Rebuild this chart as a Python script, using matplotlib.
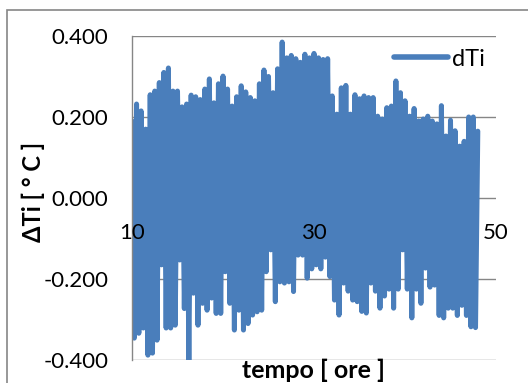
import numpy as np
import matplotlib
matplotlib.use('Agg')
import matplotlib.pyplot as plt
from matplotlib.patches import Rectangle
from matplotlib.ticker import FormatStrFormatter

# Peak values of the oscillating signal (every 0.5 h starting at 10.0 h)
picchi = [0.190, 0.232, 0.215, 0.170, 0.255, 0.264, 0.285, 0.310, 0.321, 0.264,
          0.264, 0.225, 0.232, 0.254, 0.250, 0.243, 0.269, 0.294, 0.235, 0.282,
          0.301, 0.269, 0.227, 0.250, 0.277, 0.262, 0.248, 0.240, 0.282, 0.316,
          0.300, 0.260, 0.319, 0.385, 0.346, 0.352, 0.344, 0.335, 0.355, 0.346,
          0.357, 0.346, 0.342, 0.344, 0.252, 0.207, 0.272, 0.278, 0.207, 0.255,
          0.245, 0.252, 0.248, 0.248, 0.202, 0.195, 0.223, 0.227, 0.289, 0.260,
          0.240, 0.202, 0.221, 0.190, 0.195, 0.202, 0.190, 0.183, 0.228, 0.153,
          0.192, 0.166, 0.128, 0.140, 0.200, 0.200, 0.165]
# Trough values of the oscillating signal (every 0.5 h starting at 10.25 h)
valli = [-0.346, -0.334, -0.321, -0.388, -0.383, -0.351, -0.165, -0.321, -0.321, -0.314,
         -0.153, -0.273, -0.400, -0.235, -0.314, -0.260, -0.277, -0.247, -0.285, -0.285,
         -0.182, -0.260, -0.326, -0.277, -0.326, -0.310, -0.289, -0.281, -0.277, -0.182,
         -0.128, -0.256, -0.207, -0.210, -0.207, -0.231, -0.141, -0.141, -0.198, -0.175,
         -0.165, -0.175, -0.146, -0.194, -0.252, -0.289, -0.210, -0.230, -0.252, -0.256,
         -0.280, -0.284, -0.210, -0.230, -0.272, -0.242, -0.225, -0.272, -0.225, -0.128,
         -0.225, -0.296, -0.225, -0.260, -0.173, -0.220, -0.215, -0.290, -0.296, -0.272,
         -0.272, -0.290, -0.265, -0.290, -0.318, -0.320]
t_inizio = 10.0
passo_ore = 0.25

serie_nome = "dTi"
x_ticks = [10, 30, 50]
y_ticks = [-0.4, -0.2, 0.0, 0.2, 0.4]
x_label = "tempo [ ore ]"
y_label = "ΔTi [ ° C ]"

dTi = []
for p, v in zip(picchi, valli):
    dTi += [p, v]
dTi.append(picchi[-1])
tempo = t_inizio + passo_ore * np.arange(len(dTi))

W, H = 528, 383
plt.rcParams['font.family'] = ['Lato', 'DejaVu Sans']
fig = plt.figure(figsize=(W / 100, H / 100), dpi=100)
ax = fig.add_axes([132 / W, 1 - 360 / H, (496 - 132) / W, (360 - 36) / H])

col = '#4a7ebb'
grey = '#868686'
ax.plot(tempo, dTi, color=col, lw=3.6, solid_joinstyle='round',
        solid_capstyle='round', label=serie_nome, zorder=3)

ax.set_xlim(10, 50)
ax.set_ylim(-0.4, 0.4)
ax.set_xticks(x_ticks)
ax.set_yticks(y_ticks)
ax.yaxis.set_major_formatter(FormatStrFormatter('%.3f'))
ax.yaxis.grid(True, color=grey, lw=1.0)
ax.yaxis.set_zorder(0.5)
ax.xaxis.set_zorder(5)
for s in ['top', 'right']:
    ax.spines[s].set_visible(False)
ax.spines['left'].set_color(grey)
ax.spines['left'].set_linewidth(1.0)
ax.spines['left'].set_zorder(4)
ax.spines['bottom'].set_position(('data', 0))
ax.spines['bottom'].set_visible(False)
ax.tick_params(axis='y', length=0, pad=17, labelsize=16, colors='black')
ax.tick_params(axis='x', length=0, pad=18, labelsize=16, colors='black')

leg = ax.legend(loc='center left', bbox_to_anchor=(394 / W, 1 - 59 / H),
                bbox_transform=fig.transFigure, frameon=False, fontsize=17,
                handlelength=2.3, handletextpad=0.15, borderpad=0, borderaxespad=0)
for l in leg.get_lines():
    l.set_linewidth(4)

fig.text(313 / W, 1 - 370 / H, x_label, ha='center', va='center',
         fontsize=18, fontweight='bold')
fig.text(33 / W, 1 - 192 / H, y_label, ha='center', va='center',
         fontsize=17, fontweight='bold', rotation=90)

fig.patches.append(Rectangle((7 / W, -0.1), 1.2, 1 - 10 / H + 0.1,
                             transform=fig.transFigure, fill=False,
                             edgecolor=grey, lw=1.2))

fig.savefig('out.png', dpi=100)
